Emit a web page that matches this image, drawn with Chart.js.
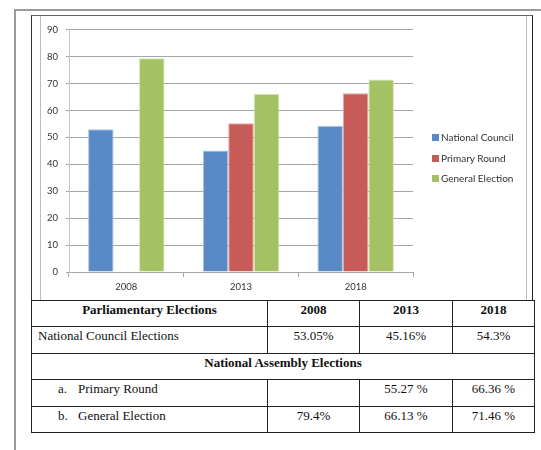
<!DOCTYPE html>
<html>
<head>
<meta charset="utf-8">
<title>Voter Turnout</title>
<script src="https://cdn.jsdelivr.net/npm/chart.js@4/dist/chart.umd.min.js"></script>
<style>
  body { margin: 0; background: #fff; width: 541px; height: 450px; overflow: hidden; position: relative; }
  #frameTop { position: absolute; left: 14px; top: 9px; width: 527px; height: 0; border-top: 2px solid #9a9a9a; }
  #frameLeft { position: absolute; left: 14px; top: 9px; width: 0; height: 441px; border-left: 2px solid #9a9a9a; }
  #chartBox { position: absolute; left: 31px; top: 15px; width: 500px; height: 285px; border-left: 1px solid #333; border-top: 1px solid #666; border-right: 1px solid #222; }
  #chartFrame { position: absolute; left: 8px; top: 0; width: 485px; height: 285px; border-left: 1px solid #bdbdbd; border-right: 1px solid #bdbdbd; }
  #chartFrame canvas { position: absolute; left: 0; top: 0; }
  #legend { position: absolute; left: 432px; top: 131px; font: 10px Lato, sans-serif; color: #333; }
  #legend div { height: 20.5px; line-height: 13px; white-space: nowrap; }
  #legend span { display: inline-block; width: 7px; height: 7px; margin-right: 2px; vertical-align: 0; }
  table { position: absolute; left: 31px; top: 300px; width: 503px; border-collapse: collapse; table-layout: fixed;
    font: 13px "Liberation Serif", "Times New Roman", serif; color: #111; }
  tr { height: 26.4px; }
  td { border: 1px solid #222; height: 22px; padding: 1px 6px 0; vertical-align: top; line-height: 15px; }
  td.c { text-align: center; padding: 1px 2px 0; }
  td.b { font-weight: bold; }
  .mark { display: inline-block; width: 20px; padding-left: 20px; }
</style>
</head>
<body>
<div id="frameTop"></div>
<div id="frameLeft"></div>
<div id="chartBox">
  <div id="chartFrame"><canvas id="chart" width="485" height="284"></canvas></div>
</div>
<div id="legend"></div>
<table id="turnout">
  <colgroup><col style="width:236px"><col style="width:92px"><col style="width:93px"><col style="width:82px"></colgroup>
</table>

<script>
'use strict';

/*********** VARIABLES ***********/
var years = ['2008', '2013', '2018'];
var seriesNames = ['National Council', 'Primary Round', 'General Election'];
var nationalCouncil = [53.05, 45.16, 54.3];
var primaryRound = [null, 55.27, 66.36];
var generalElection = [79.4, 66.13, 71.46];
var colors = ['#5a8ac6', '#c75b58', '#a4c263'];
var edgeColors = ['#a9c6ea', '#e2a6a4', '#d2e3ad'];

// table text, same figures as the bars
var councilText = ['53.05%', '45.16%', '54.3%'];
var primaryText = ['', '55.27 %', '66.36 %'];
var generalText = ['79.4%', '66.13 %', '71.46 %'];

/*********** SETUP ***********/
function setup() {
  drawGraph();
  renderLegend();
  renderTable();
}

/*********** FUNCTIONS ***********/

function drawGraph() {
  var values = [nationalCouncil, primaryRound, generalElection];
  var datasets = [];
  for (var i = 0; i < seriesNames.length; i++) {
    datasets.push({
      label: seriesNames[i],
      data: values[i],
      backgroundColor: colors[i],
      borderColor: edgeColors[i],
      borderWidth: 1,
      categoryPercentage: 0.667,
      barPercentage: 1
    });
  }

  var ctx = document.getElementById('chart').getContext('2d');
  new Chart(ctx, {
    type: 'bar',
    data: { labels: years, datasets: datasets },
    options: {
      responsive: false,
      animation: false,
      layout: { padding: { left: 0, right: 113, top: 12, bottom: 0 } },
      plugins: { legend: { display: false }, tooltip: { enabled: false } },
      scales: {
        x: {
          grid: { display: true, drawOnChartArea: false, offset: true, tickLength: 5, color: '#a6a6a6' },
          border: { color: '#a6a6a6' },
          ticks: { color: '#333', font: { family: 'Lato', size: 9.5 }, padding: 4 },
          afterFit: function (scale) { scale.height = 28; }
        },
        y: {
          min: 0,
          max: 90,
          ticks: { stepSize: 10, color: '#333', font: { family: 'Lato', size: 9.5 }, padding: 8 },
          grid: { color: '#a6a6a6', tickLength: 3 },
          border: { color: '#c4c4c4' },
          afterFit: function (scale) { scale.width = 28; }
        }
      }
    }
  });
}

function renderLegend() {
  var legend = document.getElementById('legend');
  for (var i = 0; i < seriesNames.length; i++) {
    var item = document.createElement('div');
    var box = document.createElement('span');
    box.style.background = colors[i];
    item.append(box);
    item.append(seriesNames[i]);
    legend.append(item);
  }
}

function addRow(table, cells) {
  var tr = document.createElement('tr');
  for (var i = 0; i < cells.length; i++) {
    var td = document.createElement('td');
    if (cells[i].cls) td.className = cells[i].cls;
    if (cells[i].span) td.colSpan = cells[i].span;
    if (cells[i].mark) {
      var mark = document.createElement('span');
      mark.className = 'mark';
      mark.textContent = cells[i].mark;
      td.append(mark);
    }
    td.append(cells[i].text);
    tr.append(td);
  }
  table.append(tr);
}

function renderTable() {
  var table = document.getElementById('turnout');
  var head = [{ text: 'Parliamentary Elections', cls: 'c b' }];
  var council = [{ text: 'National Council Elections' }];
  var primary = [{ text: 'Primary Round', mark: 'a.' }];
  var general = [{ text: 'General Election', mark: 'b.' }];
  for (var i = 0; i < years.length; i++) {
    head.push({ text: years[i], cls: 'c b' });
    council.push({ text: councilText[i], cls: 'c' });
    primary.push({ text: primaryText[i], cls: 'c' });
    general.push({ text: generalText[i], cls: 'c' });
  }
  addRow(table, head);
  addRow(table, council);
  addRow(table, [{ text: 'National Assembly Elections', cls: 'c b', span: 4 }]);
  addRow(table, primary);
  addRow(table, general);
}

setup();
</script>
</body>
</html>
